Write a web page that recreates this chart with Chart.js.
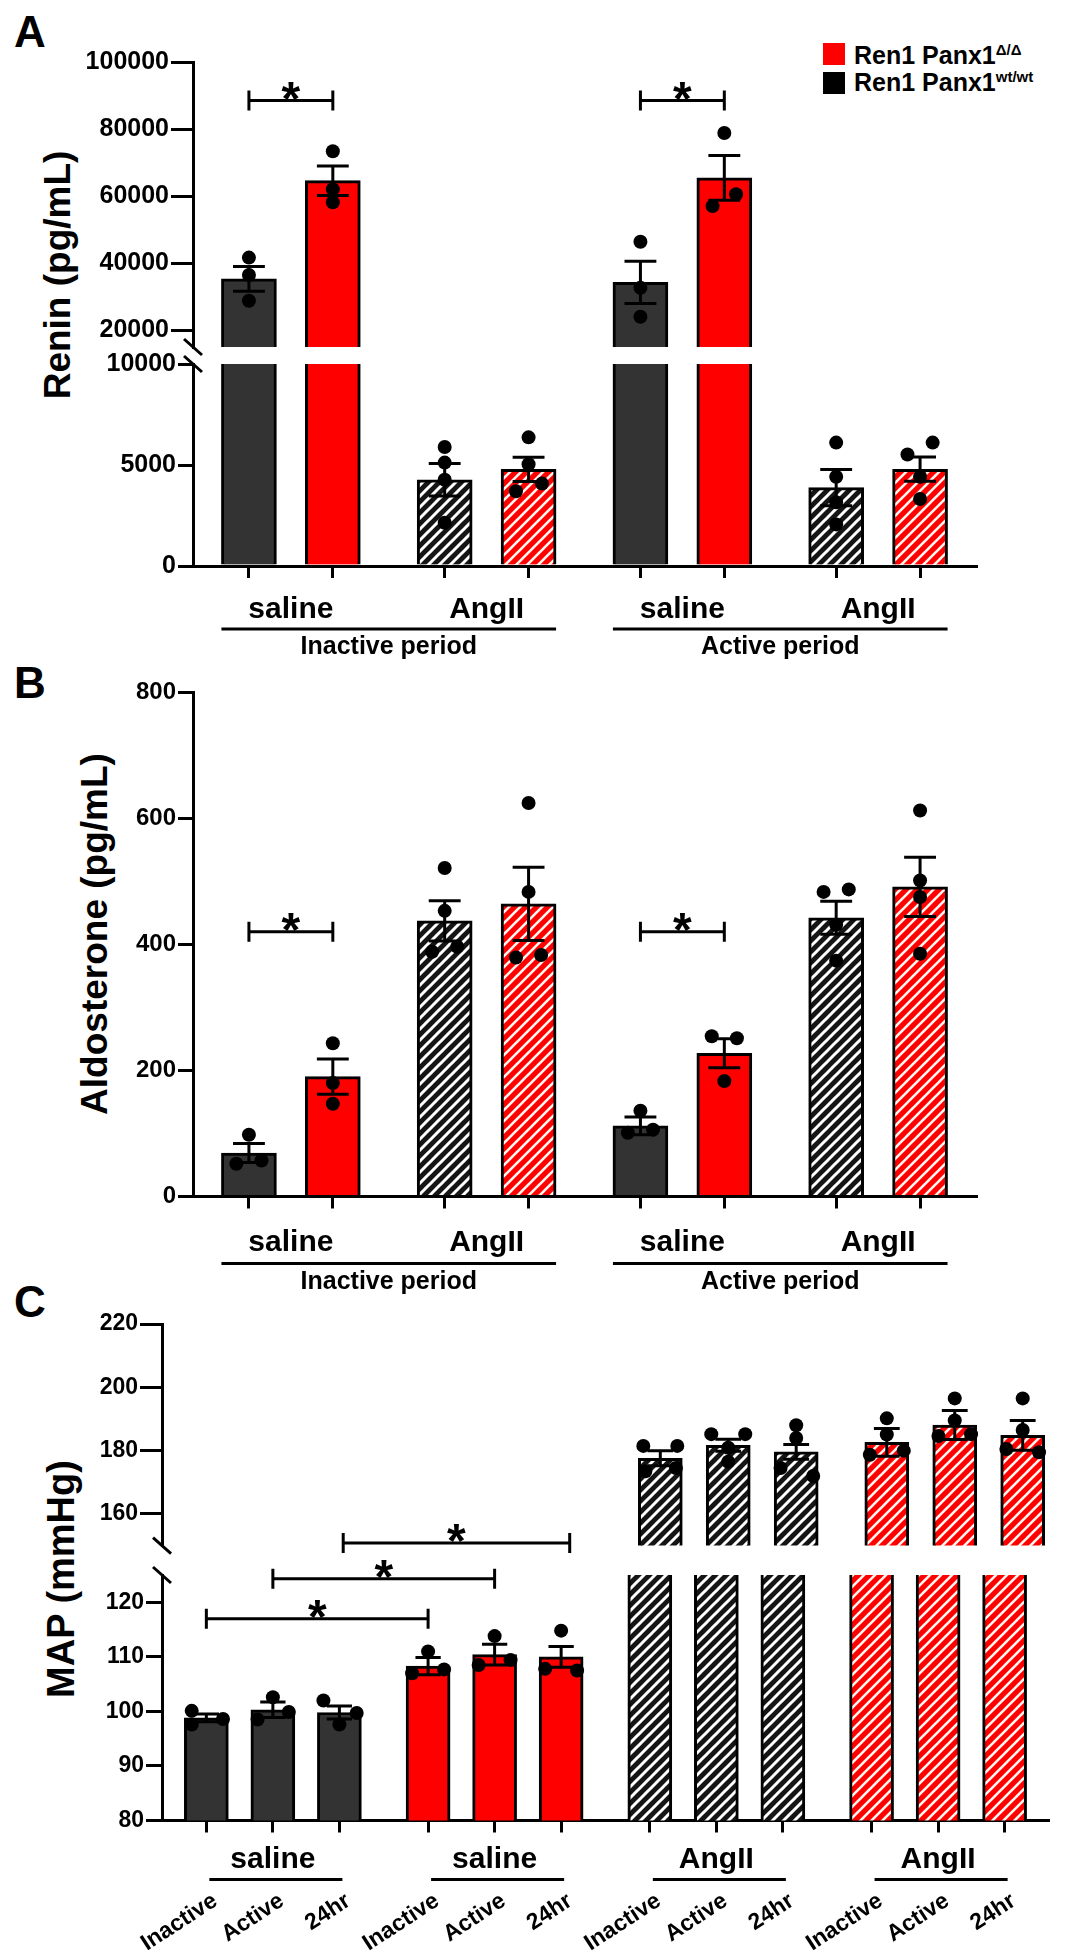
<!DOCTYPE html>
<html>
<head>
<meta charset="utf-8">
<script src="https://cdn.jsdelivr.net/npm/chart.js@4.4.1/dist/chart.umd.min.js"></script>
<style>
 html,body{margin:0;padding:0;background:#fff;}
 #fig{position:relative;width:1075px;height:1950px;overflow:hidden;background:#fff;font-family:"Liberation Sans",Arial,Helvetica,sans-serif;font-weight:bold;color:#000;}
 #fig canvas{position:absolute;left:0;}
 .t{position:absolute;white-space:nowrap;line-height:1;}
 .yt{position:absolute;white-space:nowrap;line-height:1;transform:translate(-50%,-50%) rotate(-90deg);}
 .sw{position:absolute;width:22px;height:22px;}
 .sp{font-size:15px;position:relative;top:-9px;line-height:0;}
</style>
</head>
<body>
<div id="fig">
 <div class="t" style="left:14px;top:10px;font-size:44px;">A</div>
 <div class="t" style="left:14px;top:661px;font-size:44px;">B</div>
 <div class="t" style="left:14px;top:1280px;font-size:44px;">C</div>
 <div class="yt" style="left:57px;top:275px;font-size:37px;">Renin (pg/mL)</div>
 <div class="yt" style="left:94px;top:934px;font-size:37px;">Aldosterone (pg/mL)</div>
 <div class="yt" style="left:61px;top:1579px;font-size:38px;">MAP (mmHg)</div>
 <div class="sw" style="left:823px;top:43px;background:#ff0000;"></div>
 <div class="sw" style="left:823px;top:72px;background:#000;"></div>
 <div class="t" style="left:854px;top:43px;font-size:25px;">Ren1 Panx1<span class="sp">Δ/Δ</span></div>
 <div class="t" style="left:854px;top:70px;font-size:25px;">Ren1 Panx1<span class="sp">wt/wt</span></div>
</div>
<script>
// ================= DATA =================
// Panels A & B: bars in order of appearance (genotype / treatment / period)
const periods = ['Inactive period', 'Active period'];
const treatmentsAB = ['saline', 'AngII', 'saline', 'AngII'];          // one label per pair of bars
const genotypeAB = ['wt', 'ko', 'wt', 'ko', 'wt', 'ko', 'wt', 'ko'];
const treatmentAB = ['saline', 'saline', 'AngII', 'AngII', 'saline', 'saline', 'AngII', 'AngII'];

// A: Renin (pg/mL)
const reninMean = [35300, 64600, 4270, 4780, 34300, 65450, 3880, 4790];
const reninSem = [3700, 4400, 800, 600, 6300, 6700, 900, 600];
const reninPoints = [
  [41670, 36460, 28780], [73360, 62080, 58180], [5890, 5120, 4270, 2140], [6370, 5040, 3700, 4080],
  [46370, 32650, 24020], [78840, 57020, 60570], [6110, 4420, 3150, 2060], [6110, 5520, 4420, 3320]
];
const reninTicksUpper = [20000, 40000, 60000, 80000, 100000];
const reninTicksLower = [0, 5000, 10000];
const reninSig = [[0, 1, 88500], [4, 5, 88500]];

// B: Aldosterone (pg/mL)
const aldoMean = [69, 190, 437, 464, 112, 227, 442, 491];
const aldoSem = [15, 28, 32, 58, 14, 23, 26, 47];
const aldoPoints = [
  [98, 52, 57], [243, 180, 147], [521, 453, 388, 396], [624, 483, 379, 383],
  [136, 101, 106], [254, 251, 183], [483, 487, 431, 374], [612, 501, 475, 385]
];
const aldoTicks = [0, 200, 400, 600, 800];
const aldoSig = [[0, 1, 420], [4, 5, 420]];

// C: MAP (mmHg)
const mapTimes = ['Inactive', 'Active', '24hr'];
const mapGroups = ['saline', 'saline', 'AngII', 'AngII'];
const mapGenotype = ['wt', 'ko', 'wt', 'ko'];
const mapMean = [98.8, 100.3, 99.8, 108.3, 110.4, 110.0, 177.6, 181.7, 179.6, 182.6, 188.1, 184.8];
const mapSem = [0.7, 1.4, 1.2, 1.6, 1.9, 1.9, 2.4, 1.9, 2.3, 4.4, 4.6, 4.7];
const mapPoints = [
  [100.1, 97.6, 98.6], [102.6, 98.5, 99.9], [102.0, 97.6, 99.7],
  [111.0, 107.0, 107.7], [113.8, 108.5, 109.4], [114.8, 107.8, 107.5],
  [181.5, 181.5, 173.5, 174.5], [185.2, 185.2, 180.9, 176.5], [188, 184, 174.5, 172],
  [190.2, 185.1, 178.7, 180], [196.5, 189.5, 184.6, 185.2], [196.5, 186.5, 180.5, 179.5]
];
const mapTicksUpper = [160, 180, 200, 220];
const mapTicksLower = [80, 90, 100, 110, 120];
const mapSig = [[0, 3, 117], [1, 4, 124.3], [2, 5, 150.8]];

// ================= LAYOUT / STYLE =================
const FONT = '"Liberation Sans", Arial, Helvetica, sans-serif';
Chart.defaults.font.family = FONT;
const GAP = 1 / 3;           // extra spacing between groups (x units)
const CAP = 0.19;            // error-bar cap half width (x units)
const DOT_R = 7;
// horizontal jitter of the individual dots (x units)
const reninDotOffset = [[0,0,0],[0,0,0],[0,0,0,0],[0,0,-0.15,0.16],[0,0,0],[0,-0.14,0.14],[0,0,0,0],[0.15,-0.15,0,0]];
const aldoDotOffset = [[0,-0.15,0.15],[0,0,0],[0,0,-0.15,0.15],[0,0,-0.15,0.15],[0,-0.15,0.15],[-0.15,0.15,0],[-0.15,0.15,0,0],[0,0,0,0]];
const mapDotOffset = [[-0.22,-0.22,0.25],[0,-0.23,0.24],[-0.24,0,0.26],[0,-0.24,0.24],[0,-0.24,0.24],[0,-0.24,0.24],
  [-0.25,0.25,-0.22,0.23],[-0.25,0.25,0,0],[0,0,-0.23,0.25],[0,0,-0.25,0.25],[0,0,-0.24,0.24],[0,0,-0.24,0.24]];

function layoutPositions(groupSizes) {
  const p = []; let x = 0;
  groupSizes.forEach(n => { for (let k = 0; k < n; k++) { p.push(x); x += 1; } x += GAP; });
  return p;
}
const posAB = layoutPositions([2, 2, 2, 2]);
const posC = layoutPositions([3, 3, 3, 3]);

function hatch(bg, fg, lw, gap) {
  const c = document.createElement('canvas'); c.width = gap; c.height = gap;
  const g = c.getContext('2d');
  g.fillStyle = bg; g.fillRect(0, 0, gap, gap);
  g.strokeStyle = fg; g.lineWidth = lw; g.lineCap = 'square';
  for (let k = -1; k <= 1; k++) { g.beginPath(); g.moveTo(k * gap, gap); g.lineTo((k + 1) * gap, 0); g.stroke(); }
  return g.createPattern(c, 'repeat');
}
const DARK = '#333333', RED = '#ff0000';
const HATCH_DARK = hatch('#151515', '#ffffff', 3, 11);
const HATCH_RED = hatch('#ff0000', '#fff6f0', 2.6, 11);
function fillFor(genotype, treatment) {
  if (treatment === 'AngII') return genotype === 'ko' ? HATCH_RED : HATCH_DARK;
  return genotype === 'ko' ? RED : DARK;
}
const fillsAB = genotypeAB.map((g, i) => fillFor(g, treatmentAB[i]));
const fillsC = [];
mapGroups.forEach((t, g) => mapTimes.forEach(() => fillsC.push(fillFor(mapGenotype[g], t))));
const mapTickLabels = [];
mapGroups.forEach(() => mapTimes.forEach(t => mapTickLabels.push(t)));

const fig = document.getElementById('fig');

function annot(o) {
  return {
    id: 'annot',
    afterDraw(chart) {
      const ctx = chart.ctx, xs = chart.scales.x, ys = chart.scales.y, ca = chart.chartArea;
      ctx.save();
      ctx.strokeStyle = '#000'; ctx.fillStyle = '#000'; ctx.lineWidth = 3;
      const slash = (x, y) => { ctx.beginPath(); ctx.moveTo(x - 9, y - 8); ctx.lineTo(x + 9, y + 8); ctx.stroke(); };
      if (o.breakBelow) slash(ca.left, ca.bottom);
      if (o.breakAbove) slash(ca.left, ca.top);
      (o.sig || []).filter(s => s[2] >= o.yMin && s[2] <= o.yMax).forEach(([i, j, v]) => {
        const x1 = xs.getPixelForValue(o.pos[i]), x2 = xs.getPixelForValue(o.pos[j]), y = ys.getPixelForValue(v);
        ctx.beginPath();
        ctx.moveTo(x1, y); ctx.lineTo(x2, y);
        ctx.moveTo(x1, y - 10); ctx.lineTo(x1, y + 10);
        ctx.moveTo(x2, y - 10); ctx.lineTo(x2, y + 10);
        ctx.stroke();
        ctx.font = 'bold 48px ' + FONT; ctx.textAlign = 'center'; ctx.textBaseline = 'alphabetic';
        ctx.fillText('*', (x1 + x2) / 2, y + 14);
      });
      if (o.drawLabels) o.drawLabels(chart, ctx);
      ctx.restore();
    }
  };
}

function makeChart(o) {
  const cv = document.createElement('canvas');
  const h = o.canvasBottom - o.canvasTop;
  cv.width = 1075; cv.height = h;
  cv.style.top = o.canvasTop + 'px'; cv.style.width = '1075px'; cv.style.height = h + 'px';
  fig.appendChild(cv);
  const font = s => ({ family: FONT, size: s, weight: 'bold' });
  const pos = o.pos;
  const xMin = pos[0] - 2 / 3, xMax = pos[pos.length - 1] + 2 / 3;
  const barData = pos.map((x, i) => ({ x, y: o.mean[i] }));
  const err = [];
  pos.forEach((x, i) => {
    const m = o.mean[i], s = o.sem[i];
    err.push({ x, y: m - s }, { x, y: m + s }, { x, y: null },
      { x: x - CAP, y: m + s }, { x: x + CAP, y: m + s }, { x, y: null },
      { x: x - CAP, y: m - s }, { x: x + CAP, y: m - s }, { x, y: null });
  });
  const dots = [];
  o.points.forEach((arr, i) => arr.forEach((v, k) => dots.push({ x: pos[i] + o.offsets[i][k], y: v })));
  return new Chart(cv, {
    type: 'bar',
    data: {
      datasets: [
        { type: 'bar', data: barData, backgroundColor: o.fills, borderColor: '#000', borderWidth: 3,
          barThickness: o.barW, grouped: false, clip: 0, order: 3 },
        { type: 'line', data: err, borderColor: '#000', borderWidth: 3, pointRadius: 0, pointHoverRadius: 0,
          spanGaps: false, fill: false, tension: 0, clip: 0, order: 2 },
        { type: 'scatter', data: dots, pointRadius: DOT_R, pointHoverRadius: DOT_R, backgroundColor: '#000',
          borderColor: '#000', borderWidth: 0, clip: 0, order: 1 }
      ]
    },
    options: {
      responsive: false, animation: false, devicePixelRatio: 1, events: [],
      layout: { padding: { left: 0, right: 1075 - o.xRight, top: o.plotTop - o.canvasTop,
        bottom: o.showX ? 0 : o.canvasBottom - o.plotBottom } },
      plugins: { legend: { display: false }, tooltip: { enabled: false } },
      scales: {
        x: {
          type: 'linear', min: xMin, max: xMax, bounds: 'data', offset: false, display: o.showX, z: 1,
          afterBuildTicks: s => { s.ticks = pos.map(v => ({ value: v })); },
          afterFit: s => { if (o.showX) s.height = o.canvasBottom - o.plotBottom; },
          border: { display: true, color: '#000', width: 3 },
          grid: { display: true, offset: false, drawOnChartArea: false, drawTicks: true, tickLength: 12, color: '#000', lineWidth: 3 },
          ticks: { autoSkip: false, maxRotation: o.rot || 0, minRotation: o.rot || 0, padding: o.xPad || 0,
            labelOffset: o.xLabelOffset || 0, color: '#000', font: font(23),
            callback: (v, i) => (o.xLabels ? o.xLabels[i] : '') }
        },
        y: {
          type: 'linear', min: o.yMin, max: o.yMax, bounds: 'data', z: 1,
          afterBuildTicks: s => { s.ticks = o.yTicks.map(v => ({ value: v })); },
          afterFit: s => { s.width = o.axisX; },
          border: { display: true, color: '#000', width: 3 },
          grid: { display: true, drawOnChartArea: false, drawTicks: true, tickLength: o.yTickLen, color: '#000', lineWidth: 3 },
          ticks: { color: '#000', font: font(o.yFont), padding: 2, autoSkip: false, callback: v => String(v) }
        }
      }
    },
    plugins: [annot(o)]
  });
}

function abLabels(off) {
  return (chart, ctx) => {
    const xs = chart.scales.x, y0 = chart.chartArea.bottom;
    ctx.textAlign = 'center'; ctx.textBaseline = 'alphabetic';
    ctx.font = 'bold 30px ' + FONT;
    treatmentsAB.forEach((t, g) => {
      const xa = xs.getPixelForValue(posAB[2 * g]), xb = xs.getPixelForValue(posAB[2 * g + 1]);
      ctx.fillText(t, (xa + xb) / 2, y0 + off.t);
    });
    ctx.font = 'bold 25px ' + FONT;
    periods.forEach((p, g) => {
      const xa = xs.getPixelForValue(posAB[4 * g]) - 27.5, xb = xs.getPixelForValue(posAB[4 * g + 3]) + 27.5;
      ctx.beginPath(); ctx.moveTo(xa, y0 + off.u); ctx.lineTo(xb, y0 + off.u); ctx.stroke();
      ctx.fillText(p, (xa + xb) / 2, y0 + off.p);
    });
  };
}
function cLabels(chart, ctx) {
  const xs = chart.scales.x, y0 = chart.chartArea.bottom;
  ctx.textAlign = 'center'; ctx.textBaseline = 'alphabetic';
  ctx.font = 'bold 30px ' + FONT;
  mapGroups.forEach((t, g) => {
    const xa = xs.getPixelForValue(posC[3 * g]), xb = xs.getPixelForValue(posC[3 * g + 2]);
    ctx.fillText(t, (xa + xb) / 2, y0 + 47.5);
    ctx.beginPath(); ctx.moveTo(xa + 3, y0 + 59); ctx.lineTo(xb + 3, y0 + 59); ctx.stroke();
  });
}

const common = { axisX: 193, xRight: 976, barW: 55 };
// Panel A upper segment
makeChart(Object.assign({}, common, { pos: posAB, mean: reninMean, sem: reninSem, points: reninPoints, offsets: reninDotOffset,
  fills: fillsAB, yMin: 15000, yMax: 100000, yTicks: reninTicksUpper, yFont: 25, yTickLen: 22,
  canvasTop: 40, canvasBottom: 366, plotTop: 62, plotBottom: 347, showX: false, breakBelow: true, sig: reninSig }));
// Panel A lower segment
makeChart(Object.assign({}, common, { pos: posAB, mean: reninMean, sem: reninSem, points: reninPoints, offsets: reninDotOffset,
  fills: fillsAB, yMin: 0, yMax: 10000, yTicks: reninTicksLower, yFont: 25, yTickLen: 15,
  canvasTop: 344, canvasBottom: 680, plotTop: 364, plotBottom: 566, showX: true, breakAbove: true,
  drawLabels: abLabels({ t: 52, u: 63, p: 88 }) }));
// Panel B
makeChart(Object.assign({}, common, { pos: posAB, mean: aldoMean, sem: aldoSem, points: aldoPoints, offsets: aldoDotOffset,
  fills: fillsAB, yMin: 0, yMax: 800, yTicks: aldoTicks, yFont: 24, yTickLen: 15,
  canvasTop: 668, canvasBottom: 1310, plotTop: 692, plotBottom: 1196.5, showX: true, sig: aldoSig,
  drawLabels: abLabels({ t: 54.5, u: 67, p: 92.5 }) }));
// Panel C upper segment
const commonC = { axisX: 162, xRight: 1070, barW: 44, pos: posC, mean: mapMean, sem: mapSem, points: mapPoints,
  offsets: mapDotOffset, fills: fillsC, yFont: 23, sig: mapSig };
makeChart(Object.assign({}, commonC, { yMin: 150, yMax: 220, yTicks: mapTicksUpper, yTickLen: 22,
  canvasTop: 1300, canvasBottom: 1564, plotTop: 1324, plotBottom: 1545.6, showX: false, breakBelow: true }));
// Panel C lower segment
makeChart(Object.assign({}, commonC, { yMin: 80, yMax: 125, yTicks: mapTicksLower, yTickLen: 16,
  canvasTop: 1548, canvasBottom: 1950, plotTop: 1575, plotBottom: 1820.5, showX: true, breakAbove: true,
  xLabels: mapTickLabels, rot: 33, xPad: 55, xLabelOffset: 9, drawLabels: cLabels }));
</script>
</body>
</html>
